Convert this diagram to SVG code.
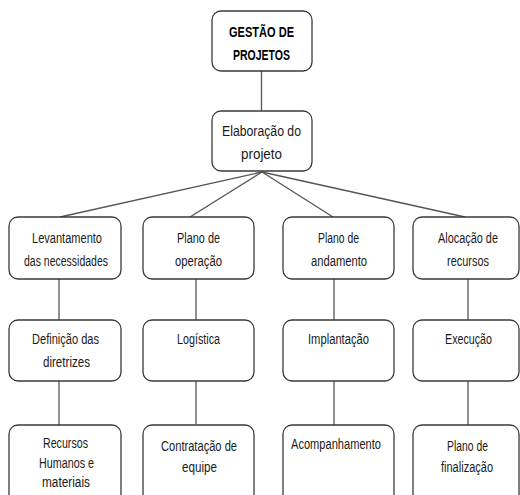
<svg xmlns="http://www.w3.org/2000/svg" width="520" height="495" viewBox="0 0 520 495">
<style>
.box{fill:#fff;stroke:#3a3a3a;stroke-width:1.3}
.t{font-family:"Liberation Sans",Arial,sans-serif;font-size:14px;fill:#1a1a1a;text-anchor:middle}
.b{font-weight:bold;fill:#000}
.c{stroke:#555;stroke-width:1.3;fill:none}
</style>
<rect width="520" height="495" fill="#fff"/>
<g id="connectors">
<line class="c" x1="261.5" y1="71" x2="261.5" y2="111"/>
<line class="c" x1="262" y1="172" x2="60" y2="217"/>
<line class="c" x1="262" y1="172" x2="190" y2="217"/>
<line class="c" x1="262" y1="172" x2="333" y2="217"/>
<line class="c" x1="262" y1="172" x2="465" y2="217"/>
<line class="c" x1="59" y1="279" x2="59" y2="320"/>
<line class="c" x1="196" y1="279" x2="196" y2="320"/>
<line class="c" x1="334" y1="279" x2="334" y2="320"/>
<line class="c" x1="468" y1="279" x2="468" y2="320"/>
<line class="c" x1="59" y1="381" x2="59" y2="425"/>
<line class="c" x1="196" y1="381" x2="196" y2="424"/>
<line class="c" x1="334" y1="381" x2="334" y2="425"/>
<line class="c" x1="468" y1="381" x2="468" y2="425"/>
</g>
<g id="gestao">
<rect class="box" x="212" y="11" width="100" height="60" rx="9"/>
<text class="t b" x="261.5" y="37" textLength="65" lengthAdjust="spacingAndGlyphs">GESTÃO DE</text>
<text class="t b" x="261.5" y="60" textLength="57" lengthAdjust="spacingAndGlyphs">PROJETOS</text>
</g>
<g id="elaboracao">
<rect class="box" x="212" y="111" width="100" height="60" rx="9"/>
<text class="t" x="261.5" y="136" textLength="79" lengthAdjust="spacingAndGlyphs">Elaboração do</text>
<text class="t" x="261.5" y="159" textLength="41" lengthAdjust="spacingAndGlyphs">projeto</text>
</g>
<g id="levantamento">
<rect class="box" x="9" y="217" width="112" height="62" rx="9"/>
<text class="t" x="67" y="243" textLength="70" lengthAdjust="spacingAndGlyphs">Levantamento</text>
<text class="t" x="66" y="266" textLength="84" lengthAdjust="spacingAndGlyphs">das necessidades</text>
</g>
<g id="plano-operacao">
<rect class="box" x="143" y="217" width="111" height="62" rx="9"/>
<text class="t" x="198.5" y="243" textLength="43" lengthAdjust="spacingAndGlyphs">Plano de</text>
<text class="t" x="198.5" y="266" textLength="47" lengthAdjust="spacingAndGlyphs">operação</text>
</g>
<g id="plano-andamento">
<rect class="box" x="283" y="217" width="111" height="62" rx="9"/>
<text class="t" x="338.5" y="243" textLength="41" lengthAdjust="spacingAndGlyphs">Plano de</text>
<text class="t" x="339" y="266" textLength="56" lengthAdjust="spacingAndGlyphs">andamento</text>
</g>
<g id="alocacao">
<rect class="box" x="413" y="217" width="106" height="62" rx="9"/>
<text class="t" x="468" y="243" textLength="60" lengthAdjust="spacingAndGlyphs">Alocação de</text>
<text class="t" x="468" y="266" textLength="42" lengthAdjust="spacingAndGlyphs">recursos</text>
</g>
<g id="definicao">
<rect class="box" x="9" y="320" width="112" height="61" rx="9"/>
<text class="t" x="65.5" y="344" textLength="67" lengthAdjust="spacingAndGlyphs">Definição das</text>
<text class="t" x="66.5" y="367" textLength="47" lengthAdjust="spacingAndGlyphs">diretrizes</text>
</g>
<g id="logistica">
<rect class="box" x="143" y="320" width="111" height="61" rx="9"/>
<text class="t" x="198.5" y="344" textLength="43" lengthAdjust="spacingAndGlyphs">Logística</text>
</g>
<g id="implantacao">
<rect class="box" x="283" y="320" width="111" height="61" rx="9"/>
<text class="t" x="338.5" y="344" textLength="61" lengthAdjust="spacingAndGlyphs">Implantação</text>
</g>
<g id="execucao">
<rect class="box" x="413" y="320" width="106" height="61" rx="9"/>
<text class="t" x="468.5" y="344" textLength="47" lengthAdjust="spacingAndGlyphs">Execução</text>
</g>
<g id="recursos">
<rect class="box" x="9" y="425" width="112" height="85" rx="9"/>
<text class="t" x="65.5" y="448" textLength="45" lengthAdjust="spacingAndGlyphs">Recursos</text>
<text class="t" x="66.5" y="468" textLength="55" lengthAdjust="spacingAndGlyphs">Humanos e</text>
<text class="t" x="66" y="487" textLength="48" lengthAdjust="spacingAndGlyphs">materiais</text>
</g>
<g id="contratacao">
<rect class="box" x="143" y="425" width="111" height="85" rx="9"/>
<text class="t" x="199" y="451" textLength="76" lengthAdjust="spacingAndGlyphs">Contratação de</text>
<text class="t" x="199.5" y="472" textLength="35" lengthAdjust="spacingAndGlyphs">equipe</text>
</g>
<g id="acompanhamento">
<rect class="box" x="283" y="425" width="111" height="85" rx="9"/>
<text class="t" x="336" y="449" textLength="90" lengthAdjust="spacingAndGlyphs">Acompanhamento</text>
</g>
<g id="finalizacao">
<rect class="box" x="413" y="425" width="106" height="85" rx="9"/>
<text class="t" x="467.5" y="451" textLength="41" lengthAdjust="spacingAndGlyphs">Plano de</text>
<text class="t" x="467" y="472" textLength="52" lengthAdjust="spacingAndGlyphs">finalização</text>
</g>
</svg>
